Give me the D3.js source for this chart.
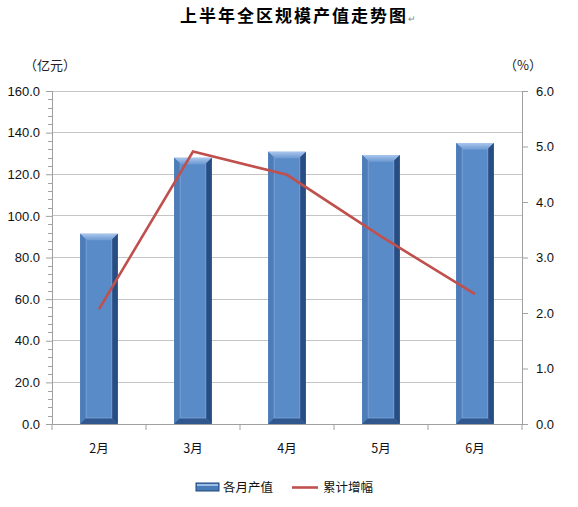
<!DOCTYPE html>
<html><head><meta charset="utf-8">
<script src="https://cdn.jsdelivr.net/npm/d3@7"></script>
<style>body{margin:0;background:#fff}svg{display:block}</style>
</head><body>
<svg id="c" width="578" height="507"></svg>
<script>
const categories = ["2月","3月","4月","5月","6月"];
const outputValues = [91.4, 127.9, 130.8, 129.2, 135.0];
const growthValues = [2.07, 4.91, 4.49, 3.38, 2.34];
const leftTicks = [0,20,40,60,80,100,120,140,160];
const rightTicks = [0,1,2,3,4,5,6];
const seriesNames = ["各月产值","累计增幅"];

const svg = d3.select("#c");
const L = 52, R = 522, T = 91, B = 424;
const cjk = "'Noto Sans CJK SC', sans-serif";
const num = "'Liberation Sans', Arial, sans-serif";

const x = d3.scaleBand().domain(categories).range([L, R]).paddingInner(0).paddingOuter(0);
const yL = d3.scaleLinear().domain([0,160]).range([B, T]);
const yR = d3.scaleLinear().domain([0,6]).range([B, T]);

const defs = svg.append("defs");
const g1 = defs.append("linearGradient").attr("id","barg").attr("x1",0).attr("x2",1).attr("y1",0).attr("y2",0);
g1.append("stop").attr("offset","0%").attr("stop-color","#4a78b4");
g1.append("stop").attr("offset","50%").attr("stop-color","#5b8cca");
g1.append("stop").attr("offset","100%").attr("stop-color","#4f80bd");
const g2 = defs.append("linearGradient").attr("id","topg").attr("x1",0).attr("x2",0).attr("y1",0).attr("y2",1);
g2.append("stop").attr("offset","0%").attr("stop-color","#a9c6ec");
g2.append("stop").attr("offset","100%").attr("stop-color","#6f9bd4");

// gridlines
svg.append("g").selectAll("line").data(leftTicks.filter(d=>d>0)).join("line")
  .attr("x1",L).attr("x2",R).attr("y1",d=>yL(d)).attr("y2",d=>yL(d))
  .attr("stroke","#c4c4c4").attr("stroke-width",1).attr("shape-rendering","crispEdges");

// left axis
const axL = d3.axisLeft(yL).tickValues(leftTicks).tickFormat(d3.format(".1f")).tickSize(6).tickPadding(6);
const gL = svg.append("g").attr("transform",`translate(${L},0)`).call(axL);
gL.select(".domain").attr("stroke","#a0a0a0");
gL.selectAll(".tick line").attr("stroke","#a0a0a0");
gL.selectAll("text").attr("font-family",num).attr("font-size",13).attr("fill","#111");
// minor ticks
const minor = d3.range(0,160,4).filter(d=>d%20!==0);
svg.append("g").selectAll("line").data(minor).join("line")
  .attr("x1",L-4).attr("x2",L).attr("y1",d=>Math.round(yL(d))+0.5).attr("y2",d=>Math.round(yL(d))+0.5)
  .attr("stroke","#a0a0a0");

// right axis
const axR = d3.axisRight(yR).tickValues(rightTicks).tickFormat(d3.format(".1f")).tickSize(6).tickPadding(8);
const gR = svg.append("g").attr("transform",`translate(${R},0)`).call(axR);
gR.select(".domain").attr("stroke","#a0a0a0");
gR.selectAll(".tick line").attr("stroke","#a0a0a0");
gR.selectAll("text").attr("font-family",num).attr("font-size",13).attr("fill","#111");

// bottom axis
const axB = d3.axisBottom(x).tickSize(0).tickPadding(20);
const gB = svg.append("g").attr("transform",`translate(0,${B})`).call(axB);
gB.select(".domain").attr("stroke","#a0a0a0");
gB.selectAll("text").attr("font-family",cjk).attr("font-size",12.5).attr("fill","#111");
svg.append("g").selectAll("line").data(d3.range(categories.length+1)).join("line")
  .attr("x1",i=>L + i*x.bandwidth()).attr("x2",i=>L + i*x.bandwidth())
  .attr("y1",B).attr("y2",B+6).attr("stroke","#a0a0a0");

// bars with bevel
const bw = x.bandwidth()*0.4;
const bars = svg.append("g").selectAll("g").data(categories).join("g");
bars.each(function(c,i){
  const g = d3.select(this);
  const x0 = x(c) + (x.bandwidth()-bw)/2, x1 = x0 + bw;
  const y0 = yL(outputValues[i]), y1 = yL(0);
  const b = 6;
  g.append("rect").attr("x",x0).attr("y",y0).attr("width",bw).attr("height",y1-y0).attr("fill","url(#barg)");
  g.append("path").attr("d",`M${x0},${y0}L${x1},${y0}L${x1-b},${y0+b}L${x0+b},${y0+b}Z`).attr("fill","url(#topg)");
  g.append("path").attr("d",`M${x1},${y0}L${x1},${y1}L${x1-b},${y1-b}L${x1-b},${y0+b}Z`).attr("fill","#284d82");
  g.append("path").attr("d",`M${x0},${y0}L${x0+b},${y0+b}L${x0+b},${y1-b}L${x0},${y1}Z`).attr("fill","#4d7db9");
  g.append("path").attr("d",`M${x0},${y1}L${x0+b},${y1-b}L${x1-b},${y1-b}L${x1},${y1}Z`).attr("fill","#30588f");
  g.append("rect").attr("x",x0+b).attr("y",y0+b).attr("width",bw-2*b).attr("height",y1-y0-2*b)
    .attr("fill","#5a8bc9").attr("stroke","#7fa6d8").attr("stroke-width",0.8);
});

// line
const line = d3.line().x((d,i)=>x(categories[i])+x.bandwidth()/2).y(d=>yR(d));
svg.append("path").datum(growthValues).attr("d",line).attr("fill","none")
  .attr("stroke","#c0504d").attr("stroke-width",2.6).attr("stroke-linejoin","miter");

// title
const title = svg.append("text").attr("x",298).attr("y",22).attr("text-anchor","middle")
  .attr("font-family",cjk).attr("font-weight","bold").attr("font-size",17).attr("letter-spacing",2).attr("fill","#000");
title.append("tspan").text("上半年全区规模产值走势图");
title.append("tspan").attr("font-size",9).attr("font-weight","normal").attr("fill","#888").attr("letter-spacing",0).text("↵");

// unit labels
svg.append("text").attr("x",50).attr("y",70).attr("text-anchor","middle").attr("font-family",cjk)
  .attr("font-size",13).attr("fill","#222").text("（亿元）");
svg.append("text").attr("x",523).attr("y",70).attr("text-anchor","middle").attr("font-family",cjk)
  .attr("font-size",13).attr("fill","#222").text("（%）");

// legend
const lg = svg.append("g");
lg.append("rect").attr("x",196).attr("y",483).attr("width",23).attr("height",8).attr("fill","#4a7bb9").attr("stroke","#23467a").attr("stroke-width",1);
lg.append("rect").attr("x",197).attr("y",484).attr("width",21).attr("height",2).attr("fill","#9cbde6");
lg.append("text").attr("x",223).attr("y",492).attr("font-family",cjk).attr("font-size",12.5).attr("fill","#111").text(seriesNames[0]);
lg.append("line").attr("x1",292).attr("x2",318).attr("y1",487.5).attr("y2",487.5).attr("stroke","#c0504d").attr("stroke-width",2.6);
lg.append("text").attr("x",323).attr("y",492).attr("font-family",cjk).attr("font-size",12.5).attr("fill","#111").text(seriesNames[1]);
</script>
</body></html>
